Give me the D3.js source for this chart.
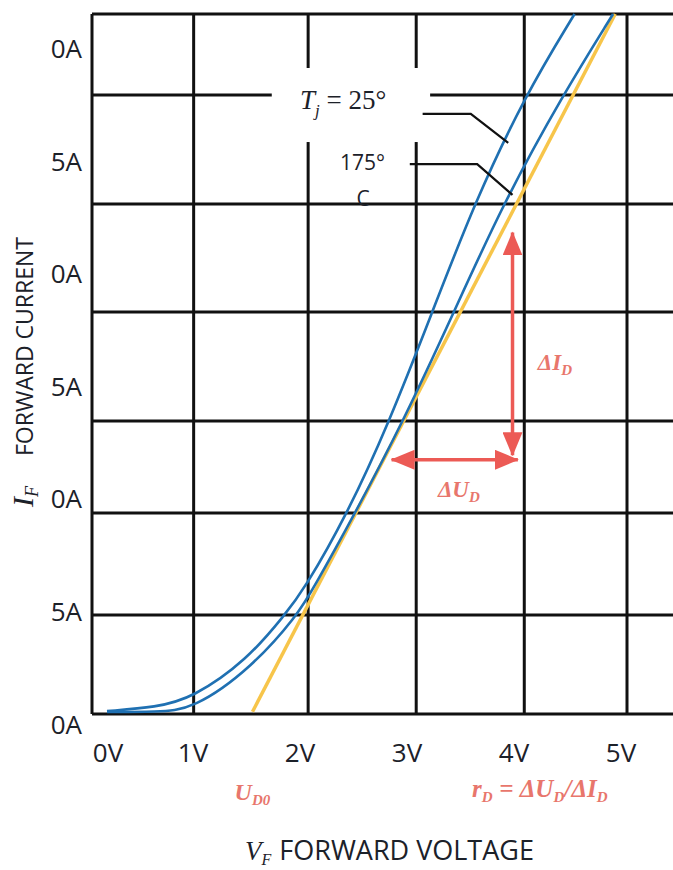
<!DOCTYPE html>
<html lang="en">
<head>
<meta charset="utf-8">
<script src="https://cdn.jsdelivr.net/npm/d3@7"></script>
<style>
  body { margin:0; background:#fff; }
  text { font-family:"Open Sans", sans-serif; }
  .serif { font-family:"Liberation Serif", "DejaVu Serif", serif; }
</style>
</head>
<body>
<div id="chart"></div>

<script>
  var W = 673, H = 870;

  // axis ticks and labels (leading digits of the current labels are cut off in the source)
  var voltTicks  = [0, 1, 2, 3, 4, 5];
  var voltLabels = ["0V", "1V", "2V", "3V", "4V", "5V"];
  var currTicks  = [0, 5, 10, 15, 20, 25, 30];
  var currLabels = ["0A", "5A", "0A", "5A", "0A", "5A", "0A"];

  // grid lines (not evenly spaced)
  var gridV = [0, 0.95, 2.02, 3.03, 4.04, 5];
  var gridI = [0, 4.4, 8.93, 13.02, 17.87, 22.67, 27.51, 31.11];

  // forward characteristics [V, A]
  var tj25  = [[0.14,0.13],[0.60,0.30],[0.94,0.71],[1.45,2.40],[1.80,4.40],[1.98,5.51],[2.39,8.93],
               [2.77,12.89],[3.17,17.73],[3.57,22.67],[4.05,27.51],[4.51,31.11]];
  var tj175 = [[0.14,0.09],[0.60,0.10],[0.94,0.18],[1.50,2.09],[1.92,4.40],[2.06,5.51],[2.46,8.93],
               [2.91,13.02],[3.37,17.73],[3.84,22.67],[4.40,27.51],[4.87,31.11]];
  var tangent = [[1.50,0.10],[4.89,31.11]];

  // delta arrows
  var dI = [[3.93,21.4],[3.93,11.5]];
  var dU = [[2.80,11.3],[3.98,11.3]];

  // leader lines from the temperature labels
  var lead25  = [[3.09,26.67],[3.54,26.67],[3.89,25.38]];
  var lead175 = [[2.97,24.44],[3.60,24.44],[3.93,23.07]];

  var x = d3.scaleLinear().domain([0,5]).range([92,627]);
  var y = d3.scaleLinear().domain([0,31.11]).range([714,14]);

  var svg = d3.select("#chart").append("svg")
      .attr("width", W).attr("height", H)
      .style("background", "#fff");

  var defs = svg.append("defs");
  defs.append("marker")
      .attr("id", "arrow")
      .attr("markerUnits", "userSpaceOnUse")
      .attr("markerWidth", 24).attr("markerHeight", 20)
      .attr("refX", 23).attr("refY", 10)
      .attr("orient", "auto-start-reverse")
    .append("path")
      .attr("d", "M0,0 L24,10 L0,20 Z")
      .attr("fill", "#ec5a55");

  // grid
  var grid = svg.append("g").attr("stroke", "#111").attr("stroke-width", 3);
  grid.selectAll("line.v").data(gridV).enter().append("line")
      .attr("class", "v")
      .attr("x1", function(d){ return x(d); }).attr("x2", function(d){ return x(d); })
      .attr("y1", y(gridI[gridI.length-1])).attr("y2", y(0));
  grid.selectAll("line.h").data(gridI).enter().append("line")
      .attr("class", "h")
      .attr("x1", x(0)).attr("x2", W)
      .attr("y1", function(d){ return y(d); }).attr("y2", function(d){ return y(d); });

  // white patch behind the Tj label
  svg.append("rect")
      .attr("x", x(1.68)).attr("y", y(28.71))
      .attr("width", x(3.16) - x(1.68)).attr("height", y(25.42) - y(28.71))
      .attr("fill", "#fff");

  var line = d3.line()
      .x(function(d){ return x(d[0]); })
      .y(function(d){ return y(d[1]); });
  var smooth = d3.line()
      .x(function(d){ return x(d[0]); })
      .y(function(d){ return y(d[1]); })
      .curve(d3.curveBasis);

  svg.append("path").datum(tangent)
      .attr("d", line).attr("fill", "none")
      .attr("stroke", "#f7c54a").attr("stroke-width", 3.5);

  [tj175, tj25].forEach(function(c){
    svg.append("path").datum(c)
        .attr("d", smooth).attr("fill", "none")
        .attr("stroke", "#1f70b2").attr("stroke-width", 2.6);
  });

  // leaders
  [lead25, lead175].forEach(function(l){
    svg.append("path").datum(l)
        .attr("d", line).attr("fill", "none")
        .attr("stroke", "#111").attr("stroke-width", 2.2);
  });

  // delta arrows
  [dI, dU].forEach(function(a){
    svg.append("path").datum(a)
        .attr("d", line).attr("fill", "none")
        .attr("stroke", "#ec5a55").attr("stroke-width", 3.5)
        .attr("marker-start", "url(#arrow)")
        .attr("marker-end", "url(#arrow)");
  });

  // tick labels
  svg.append("g").selectAll("text").data(voltTicks).enter().append("text")
      .attr("x", function(d, i){ return x(d) + (i === 0 ? 16 : -6); })
      .attr("y", 752)
      .attr("text-anchor", "middle")
      .attr("dominant-baseline", "central")
      .attr("font-size", 26)
      .attr("fill", "#1c2129")
      .text(function(d, i){ return voltLabels[i]; });

  svg.append("g").selectAll("text").data(currTicks).enter().append("text")
      .attr("x", 82)
      .attr("y", function(d){ return y(d) + 9.5; })
      .attr("text-anchor", "end")
      .attr("dominant-baseline", "central")
      .attr("font-size", 26)
      .attr("fill", "#1c2129")
      .text(function(d, i){ return currLabels[i]; });

  // temperature labels
  var tj = svg.append("text").attr("class", "serif")
      .attr("x", x(1.944)).attr("y", y(27.29) + 9)
      .attr("font-size", 27).attr("fill", "#1c2129");
  tj.append("tspan").attr("font-style", "italic").text("T");
  tj.append("tspan").attr("font-style", "italic").attr("font-size", 17).attr("dy", 7).text("j");
  tj.append("tspan").attr("dy", -7).text("\u00a0= 25°");

  svg.append("text")
      .attr("x", x(2.318)).attr("y", y(24.49) + 7)
      .attr("font-size", 21).attr("fill", "#1c2129")
      .text("175°");
  svg.append("text")
      .attr("x", x(2.533)).attr("y", y(22.93) + 8)
      .attr("text-anchor", "middle")
      .attr("font-size", 21).attr("fill", "#1c2129")
      .text("C");

  // red annotations
  var red = "#e8766c";
  function sub(t, main, s) {
    t.append("tspan").text(main);
    t.append("tspan").attr("font-size", 15).attr("dy", 5).text(s);
    t.append("tspan").attr("font-size", 1).attr("dy", -5).text("\u00a0");
  }
  function redText(v, i, size) {
    return svg.append("text").attr("class", "serif")
        .attr("x", x(v)).attr("y", y(i) + 7)
        .attr("text-anchor", "middle")
        .attr("font-size", size).attr("font-style", "italic").attr("font-weight", "bold")
        .attr("fill", red);
  }
  sub(redText(4.327, 15.6, 23), "ΔI", "D");
  sub(redText(3.43, 9.96, 23), "ΔU", "D");
  sub(redText(1.5, -3.51, 24), "U", "D0");

  var tr = redText(4.187, -3.38, 25);
  sub(tr, "r", "D");
  tr.append("tspan").text("\u00a0=\u00a0");
  sub(tr, "ΔU", "D");
  tr.append("tspan").text("/");
  sub(tr, "ΔI", "D");

  // axis titles
  var xt = svg.append("text")
      .attr("x", 245).attr("y", 860)
      .attr("font-size", 27).attr("fill", "#1c2129");
  xt.append("tspan").attr("class", "serif").attr("font-style", "italic").text("V");
  xt.append("tspan").attr("class", "serif").attr("font-style", "italic")
      .attr("font-size", 16).attr("dy", 5).text("F");
  xt.append("tspan").attr("dy", -5).attr("dx", 8).text("FORWARD VOLTAGE");

  var yt = svg.append("text")
      .attr("transform", "translate(33,507) rotate(-90)")
      .attr("font-size", 23).attr("fill", "#1c2129");
  yt.append("tspan").attr("class", "serif").attr("font-style", "italic").attr("font-size", 30).text("I");
  yt.append("tspan").attr("class", "serif").attr("font-style", "italic")
      .attr("font-size", 18).attr("dy", 5).text("F");
  yt.append("tspan").attr("dy", -5).attr("dx", 30).text("FORWARD CURRENT");
</script>
</body>
</html>
